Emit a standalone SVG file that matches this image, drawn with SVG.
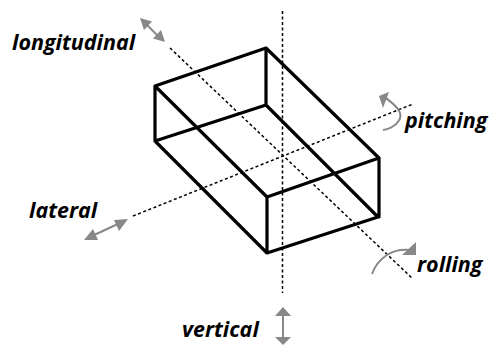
<svg xmlns="http://www.w3.org/2000/svg" width="490" height="345" viewBox="0 0 490 345">
<style>
.box{fill:none;stroke:#000;stroke-width:3.2;stroke-linecap:round;stroke-linejoin:round}
.axis{fill:none;stroke:#000;stroke-width:1.5;stroke-dasharray:3 2.5}
.mv{fill:none;stroke:#888;stroke-width:2}
.head{fill:#888}
text{font-family:"Open Sans","Noto Sans",sans-serif;font-weight:700;font-style:italic;font-size:21.500px;fill:#000}
</style>
<rect width="490" height="345" fill="#fff"/>
<g id="connectors">
<path class="axis" d="M170 48L413 279"/>
<path class="axis" d="M282.500 11V293"/>
<path class="axis" d="M133 216L413 104"/>
</g>
<g id="box">
<path class="box" d="M155 86L266 48L379 158L267 197ZM155 141L266 105L378 217L267 253ZM155 86V141M266 48V105M379 158V217M267 197V253"/>
</g>
<g id="longitudinal">
<path class="mv" d="M147 25L158 36"/>
<path class="head" d="M140 18L152 21.500L144 30ZM165 42L153 38.500L161 30Z"/>
<text x="12" y="50">longitudinal</text>
</g>
<g id="pitching">
<path class="mv" d="M383 130C395 128 402 120 400 113C398 106 390 102 385 97"/>
<path class="head" d="M389 92L379 96L383 108Z"/>
<text x="405" y="128">pitching</text>
</g>
<g id="lateral">
<path class="mv" d="M92 236L120 223"/>
<path class="head" d="M84 240L98 240L93 229ZM128 219L114 220L119 231Z"/>
<text x="29" y="218">lateral</text>
</g>
<g id="rolling">
<path class="mv" d="M372 274C378 258 392 248 410 250"/>
<path class="head" d="M416 242V255H402Z"/>
<text x="417" y="272">rolling</text>
</g>
<g id="vertical">
<path class="mv" d="M283 312V340"/>
<path class="head" d="M283 307L291 316H275ZM283 345L291 337H275Z"/>
<text x="182" y="337">vertical</text>
</g>
</svg>
